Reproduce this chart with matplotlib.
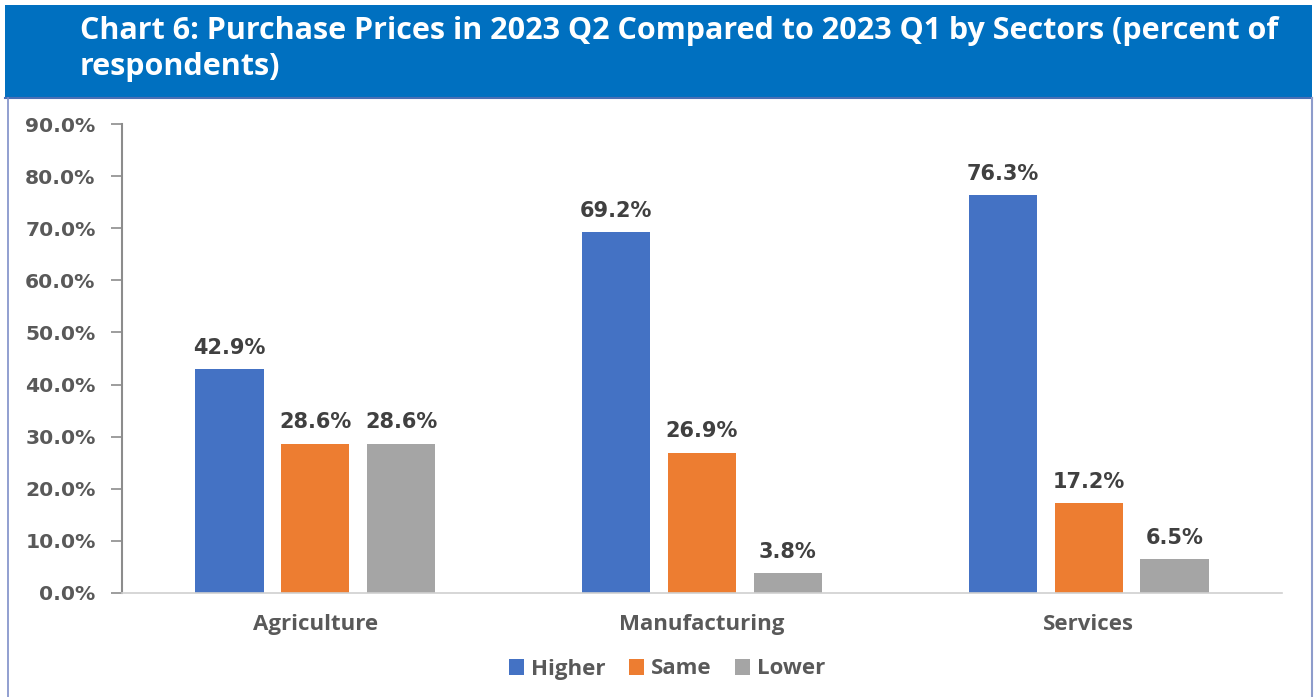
import matplotlib
matplotlib.use("Agg")
import matplotlib.pyplot as plt
from matplotlib.patches import Rectangle
from matplotlib.lines import Line2D
import numpy as np

sectors = ["Agriculture", "Manufacturing", "Services"]
series_names = ["Higher", "Same", "Lower"]
higher = [42.9, 69.2, 76.3]
same = [28.6, 26.9, 17.2]
lower = [28.6, 3.8, 6.5]
y_ticks = [0, 10, 20, 30, 40, 50, 60, 70, 80, 90]
colors = ["#4472C4", "#ED7D31", "#A5A5A5"]

title = "Chart 6: Purchase Prices in 2023 Q2 Compared to 2023 Q1 by Sectors (percent of\nrespondents)"

W, H = 1314, 697
fig = plt.figure(figsize=(W / 100, H / 100), dpi=100)
fig.patch.set_facecolor("white")

# header band and frame
fig.patches.append(Rectangle((5 / W, 1 - 98 / H), 1307 / W, 93 / H,
                             transform=fig.transFigure, facecolor="#0070C0",
                             edgecolor="none", zorder=0))
fig.lines.append(Line2D([5 / W, 1312 / W], [1 - 98 / H] * 2, transform=fig.transFigure,
                        color="#4A6FB5", lw=1.5))
fig.lines.append(Line2D([7.5 / W, 7.5 / W], [0, 1 - 98 / H], transform=fig.transFigure,
                        color="#7F8FC8", lw=1.2))
fig.lines.append(Line2D([1311.5 / W, 1311.5 / W], [0, 1 - 98 / H], transform=fig.transFigure,
                        color="#8E9CCB", lw=1.5))
fig.text(80 / W, 1 - 49 / H, title, color="white", fontsize=22, fontweight="bold",
         family="Open Sans", va="center", ha="left", linespacing=1.24)

ax = fig.add_axes([122 / W, 1 - 593 / H, 1160 / W, 469 / H])
x = np.arange(len(sectors))
width = 0.176
step = 0.222
for i, (name, vals) in enumerate(zip(series_names, [higher, same, lower])):
    pos = x + (i - 1) * step
    ax.bar(pos, vals, width=width, color=colors[i], label=name, zorder=2)
    for p, v in zip(pos, vals):
        ax.text(p, v + 2.2, f"{v:.1f}%", ha="center", va="bottom", fontsize=15,
                fontweight="bold", color="#404040", family="DejaVu Sans")

ax.set_xlim(-0.5, 2.5)
ax.set_ylim(0, 90)
ax.set_yticks(y_ticks)
ax.set_yticklabels([f"{t:.1f}%" for t in y_ticks], fontsize=14.6, fontweight="bold",
                   color="#595959", family="DejaVu Sans")
ax.set_xticks(x)
ax.set_xticklabels(sectors, fontsize=16, fontweight="bold", color="#595959",
                   family="Open Sans")
ax.tick_params(axis="x", length=0, pad=15)
ax.tick_params(axis="y", length=8, width=1.2, color="#8C8C8C", pad=11)
for s in ["top", "right"]:
    ax.spines[s].set_visible(False)
ax.spines["left"].set_color("#8C8C8C")
ax.spines["left"].set_linewidth(1.5)
ax.spines["bottom"].set_color("#D0D0D0")
ax.spines["bottom"].set_linewidth(1.2)

leg = fig.legend(loc="center", bbox_to_anchor=(667 / W, 1 - 669 / H), ncol=3, frameon=False,
                 handlelength=0.7, handleheight=0.7, handletextpad=0.3, columnspacing=1.05,
                 prop={"family": "Open Sans", "weight": "bold", "size": 16})
for t in leg.get_texts():
    t.set_color("#595959")

fig.savefig("out.png", dpi=100)
